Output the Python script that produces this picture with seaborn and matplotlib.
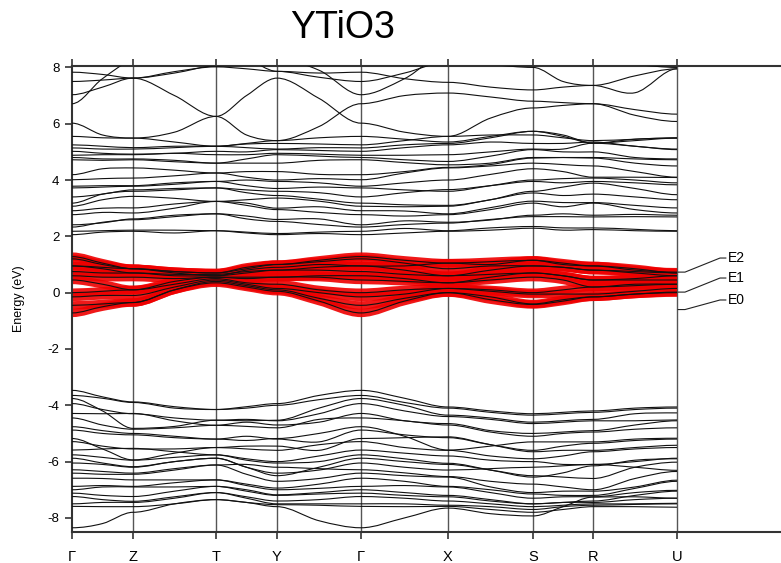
import numpy as np
import matplotlib
matplotlib.use("Agg")
import matplotlib.pyplot as plt
from matplotlib.path import Path
from matplotlib.patches import PathPatch
import seaborn as sns

# High-symmetry path through the orthorhombic Brillouin zone
KPOINT_LABELS = ["Γ", "Z", "T", "Y", "Γ", "X", "S", "R", "U"]
KPOINT_DIST = [0, 61, 144, 205, 289, 376, 461, 521, 605]

# Band energies (eV): value at each k-point and halfway along each segment
# order: Γ, ½, Z, ½, T, ½, Y, ½, Γ, ½, X, ½, S, ½, R, ½, U
CONDUCTION = [
    [2.06, 2.15, 2.18, 2.12, 2.20, 2.12, 2.06, 2.10, 2.06, 2.12, 2.18, 2.22, 2.29, 2.22, 2.24, 2.20, 2.18],
    [2.18, 2.20, 2.22, 2.22, 2.20, 2.15, 2.10, 2.15, 2.18, 2.28, 2.20, 2.30, 2.35, 2.30, 2.30, 2.25, 2.20],
    [2.33, 2.50, 2.59, 2.70, 2.80, 2.62, 2.53, 2.42, 2.33, 2.42, 2.47, 2.60, 2.70, 2.70, 2.69, 2.70, 2.69],
    [2.41, 2.48, 2.62, 2.75, 2.80, 2.72, 2.60, 2.62, 2.41, 2.55, 2.50, 2.58, 2.75, 2.80, 2.75, 2.78, 2.75],
    [2.77, 2.85, 2.83, 3.00, 3.24, 3.10, 2.95, 2.85, 2.77, 2.72, 2.77, 2.95, 3.18, 3.05, 3.18, 2.95, 2.83],
    [2.91, 3.00, 3.01, 3.15, 3.24, 3.18, 3.00, 3.05, 2.91, 2.90, 2.80, 3.02, 3.25, 3.20, 3.20, 3.10, 3.01],
    [3.07, 3.30, 3.42, 3.35, 3.24, 3.30, 3.36, 3.25, 3.07, 3.05, 3.07, 3.30, 3.54, 3.45, 3.50, 3.40, 3.30],
    [3.18, 3.50, 3.60, 3.65, 3.72, 3.55, 3.45, 3.32, 3.18, 3.12, 3.10, 3.30, 3.60, 3.75, 3.89, 3.70, 3.48],
    [3.40, 3.50, 3.65, 3.70, 3.72, 3.65, 3.60, 3.55, 3.40, 3.55, 3.66, 3.80, 3.95, 3.90, 3.95, 3.90, 3.83],
    [3.72, 3.75, 3.78, 3.85, 3.95, 3.80, 3.70, 3.75, 3.72, 3.65, 3.60, 3.80, 4.00, 4.05, 4.07, 4.00, 3.90],
    [3.78, 3.80, 3.80, 3.90, 3.95, 4.00, 3.95, 3.90, 3.78, 3.90, 4.00, 4.20, 4.40, 4.30, 4.10, 4.10, 4.09],
    [4.01, 4.05, 4.07, 4.15, 4.25, 4.10, 4.00, 4.05, 4.01, 4.25, 4.43, 4.50, 4.60, 4.55, 4.50, 4.30, 4.10],
    [4.19, 4.40, 4.43, 4.35, 4.25, 4.30, 4.30, 4.20, 4.19, 4.30, 4.45, 4.55, 4.78, 4.80, 4.78, 4.60, 4.50],
    [4.72, 4.70, 4.72, 4.65, 4.60, 4.60, 4.60, 4.70, 4.72, 4.62, 4.54, 4.60, 4.80, 4.80, 4.80, 4.75, 4.72],
    [4.80, 4.75, 4.75, 4.70, 4.60, 4.75, 4.90, 4.85, 4.80, 4.72, 4.66, 4.85, 5.08, 5.00, 5.00, 4.80, 4.75],
    [4.88, 4.90, 4.90, 4.95, 4.90, 4.90, 4.95, 4.92, 4.88, 4.88, 4.90, 5.00, 5.10, 5.10, 5.31, 5.20, 5.08],
    [5.02, 4.95, 4.92, 4.95, 5.02, 5.00, 5.08, 5.05, 5.02, 5.15, 5.25, 5.35, 5.30, 5.30, 5.35, 5.20, 5.10],
    [5.14, 5.10, 5.10, 5.15, 5.20, 5.15, 5.10, 5.15, 5.14, 5.25, 5.30, 5.50, 5.73, 5.60, 5.31, 5.45, 5.49],
    [5.25, 5.20, 5.15, 5.20, 5.20, 5.28, 5.30, 5.28, 5.25, 5.40, 5.55, 5.60, 5.60, 5.50, 5.40, 5.45, 5.50],
    [5.55, 5.50, 5.49, 5.35, 5.20, 5.30, 5.40, 5.50, 5.55, 5.45, 5.35, 5.55, 5.73, 5.55, 5.31, 5.40, 5.49],
    [6.02, 5.60, 5.49, 5.70, 6.26, 7.00, 7.62, 6.90, 6.02, 5.70, 5.55, 6.20, 6.56, 6.65, 6.71, 6.50, 6.34],
    [7.83, 7.75, 7.62, 7.00, 6.26, 5.60, 5.40, 5.90, 6.71, 7.00, 7.09, 6.95, 6.80, 6.75, 6.71, 6.30, 6.08],
    [6.71, 7.60, 8.20, 8.40, 8.40, 8.30, 7.86, 7.80, 7.83, 7.60, 7.47, 7.30, 7.20, 7.30, 7.36, 7.70, 7.95],
    [7.50, 7.55, 7.62, 7.85, 8.02, 7.95, 7.86, 7.65, 7.50, 7.80, 8.20, 8.10, 8.00, 7.50, 7.36, 7.10, 7.95],
    [7.03, 7.30, 7.62, 7.80, 8.05, 8.20, 8.30, 7.90, 7.03, 7.60, 8.50, 8.50, 8.50, 8.30, 8.20, 8.10, 8.00],
]

# Ti t2g manifold around the Fermi level
T2G = [
    [-0.72, -0.50, -0.35, 0.10, 0.35, 0.20, 0.05, -0.30, -0.72, -0.30, 0.00, -0.25, -0.42, -0.30, -0.15, -0.05, 0.00],
    [-0.45, -0.40, -0.35, 0.10, 0.40, 0.25, 0.10, -0.20, -0.45, -0.20, 0.00, -0.15, -0.40, -0.25, -0.15, -0.05, 0.02],
    [-0.15, -0.10, -0.10, 0.20, 0.45, 0.30, 0.15, 0.00, -0.15, -0.05, 0.15, 0.05, -0.05, -0.05, -0.05, 0.05, 0.15],
    [0.00, 0.05, 0.10, 0.30, 0.50, 0.35, 0.30, 0.10, 0.00, 0.10, 0.15, 0.10, 0.00, 0.10, 0.20, 0.25, 0.30],
    [0.45, 0.30, 0.10, 0.40, 0.55, 0.50, 0.55, 0.55, 0.45, 0.40, 0.35, 0.45, 0.55, 0.45, 0.20, 0.30, 0.30],
    [0.60, 0.55, 0.55, 0.50, 0.55, 0.55, 0.55, 0.60, 0.60, 0.50, 0.35, 0.55, 0.70, 0.60, 0.45, 0.45, 0.45],
    [0.75, 0.70, 0.70, 0.60, 0.60, 0.70, 0.80, 0.80, 0.75, 0.65, 0.60, 0.65, 0.70, 0.60, 0.45, 0.50, 0.60],
    [0.95, 0.85, 0.70, 0.65, 0.65, 0.75, 0.80, 0.90, 0.95, 0.80, 0.60, 0.80, 0.95, 0.90, 0.80, 0.70, 0.60],
    [0.95, 0.90, 0.85, 0.70, 0.60, 0.80, 0.90, 1.00, 0.95, 0.95, 1.05, 1.00, 1.15, 1.00, 0.95, 0.85, 0.70],
    [1.20, 1.00, 0.85, 0.75, 0.70, 0.85, 1.00, 1.10, 1.20, 1.05, 0.85, 0.95, 0.95, 0.90, 0.80, 0.75, 0.70],
    [1.28, 1.05, 0.85, 0.75, 0.70, 0.90, 1.00, 1.15, 1.28, 1.15, 1.05, 1.10, 1.15, 1.05, 0.95, 0.80, 0.73],
]

VALENCE = [
    [-3.47, -3.70, -3.88, -4.05, -4.15, -4.05, -3.94, -3.65, -3.47, -3.75, -4.06, -4.20, -4.30, -4.25, -4.20, -4.10, -4.06],
    [-3.65, -3.75, -3.90, -4.10, -4.15, -4.10, -4.00, -3.80, -3.65, -3.90, -4.10, -4.25, -4.35, -4.30, -4.25, -4.15, -4.10],
    [-3.76, -4.20, -4.82, -4.75, -4.53, -4.55, -4.53, -4.10, -3.76, -4.00, -4.35, -4.45, -4.60, -4.55, -4.50, -4.30, -4.27],
    [-3.94, -4.15, -4.30, -4.45, -4.53, -4.50, -4.55, -4.30, -3.94, -4.20, -4.40, -4.50, -4.65, -4.60, -4.55, -4.55, -4.52],
    [-4.29, -4.30, -4.29, -4.55, -4.71, -4.60, -4.70, -4.60, -4.29, -4.55, -4.65, -4.90, -5.00, -4.95, -4.90, -4.70, -4.55],
    [-4.45, -4.70, -4.85, -4.80, -4.71, -4.75, -4.80, -4.50, -4.45, -4.55, -4.70, -4.95, -5.10, -5.00, -4.95, -4.85, -4.80],
    [-4.76, -4.90, -5.00, -5.10, -5.20, -5.25, -5.18, -5.00, -4.76, -5.10, -5.59, -5.45, -5.30, -5.30, -5.30, -5.20, -5.17],
    [-4.88, -5.00, -5.05, -5.15, -5.20, -5.10, -5.20, -5.30, -4.88, -5.05, -5.15, -5.40, -5.60, -5.45, -5.35, -5.25, -5.20],
    [-5.18, -5.55, -5.94, -5.70, -5.50, -5.45, -5.45, -5.60, -5.18, -5.15, -5.12, -5.40, -5.65, -5.60, -5.60, -5.50, -5.42],
    [-5.29, -5.45, -5.55, -5.55, -5.50, -5.55, -5.60, -5.40, -5.29, -5.50, -5.60, -5.80, -5.90, -5.80, -5.65, -5.55, -5.50],
    [-5.59, -5.55, -5.53, -5.65, -5.76, -5.90, -6.00, -5.80, -5.59, -5.70, -5.80, -5.95, -6.00, -6.10, -6.10, -6.00, -5.88],
    [-5.76, -5.85, -5.95, -5.85, -5.76, -5.95, -6.05, -6.00, -5.76, -5.90, -6.06, -6.30, -6.55, -6.40, -6.15, -5.95, -5.90],
    [-5.88, -6.05, -6.18, -6.00, -5.88, -6.20, -6.50, -6.20, -5.88, -6.00, -6.10, -6.30, -6.50, -6.55, -6.60, -6.20, -6.02],
    [-6.05, -6.10, -6.20, -6.00, -5.88, -6.20, -6.41, -6.30, -6.05, -6.20, -6.30, -6.25, -6.20, -6.15, -6.10, -6.20, -6.31],
    [-6.29, -6.35, -6.41, -6.25, -6.12, -6.10, -6.20, -6.25, -6.29, -6.40, -6.53, -6.70, -6.80, -6.90, -7.00, -6.60, -6.35],
    [-6.41, -6.45, -6.45, -6.30, -6.12, -6.45, -6.70, -6.60, -6.41, -6.50, -6.55, -6.90, -7.10, -7.05, -7.05, -6.90, -6.66],
    [-6.59, -6.60, -6.65, -6.65, -6.65, -6.80, -6.94, -6.80, -6.59, -6.70, -6.88, -7.00, -7.15, -7.20, -7.20, -6.95, -6.70],
    [-6.88, -6.85, -6.88, -6.75, -6.65, -6.85, -7.00, -6.95, -6.88, -6.85, -6.90, -7.10, -7.30, -7.25, -7.25, -7.10, -7.02],
    [-7.00, -6.90, -6.90, -6.90, -6.88, -7.00, -7.18, -7.10, -7.00, -7.10, -7.20, -7.35, -7.50, -7.45, -7.40, -7.20, -7.05],
    [-7.12, -7.20, -7.24, -7.05, -6.88, -7.05, -7.20, -7.15, -7.12, -7.20, -7.25, -7.40, -7.50, -7.45, -7.45, -7.35, -7.30],
    [-7.24, -7.35, -7.41, -7.25, -7.10, -7.25, -7.40, -7.35, -7.24, -7.30, -7.40, -7.50, -7.60, -7.55, -7.50, -7.50, -7.48],
    [-7.50, -7.45, -7.45, -7.30, -7.10, -7.30, -7.50, -7.50, -7.50, -7.50, -7.55, -7.60, -7.70, -7.60, -7.55, -7.52, -7.50],
    [-7.59, -7.60, -7.60, -7.50, -7.35, -7.45, -7.53, -7.55, -7.59, -7.60, -7.59, -7.70, -7.80, -7.70, -7.60, -7.60, -7.62],
    [-8.35, -8.20, -7.80, -7.50, -7.35, -7.45, -7.60, -8.10, -8.35, -8.00, -7.65, -7.85, -7.93, -7.60, -7.26, -7.25, -7.30],
]

# Marked levels at U
LEVEL_NAMES = ["E2", "E1", "E0"]
LEVEL_ENERGIES = [0.73, 0.02, -0.60]
LEVEL_LABEL_Y = [1.23, 0.52, -0.26]


def sample_k(nodes):
    ks = []
    for a, b in zip(nodes[:-1], nodes[1:]):
        ks += [a, 0.5 * (a + b)]
    ks.append(nodes[-1])
    return np.array(ks, dtype=float)


def band_path(ks, es):
    """Smooth cubic Bezier path through the sampled energies (flat at k-points)."""
    es = np.asarray(es, dtype=float)
    n = len(ks)
    slope = np.zeros(n)
    for i in range(1, n - 1, 2):
        slope[i] = (es[i + 1] - es[i - 1]) / (ks[i + 1] - ks[i - 1])
    verts = [(ks[0], es[0])]
    codes = [Path.MOVETO]
    for i in range(n - 1):
        h = ks[i + 1] - ks[i]
        verts += [(ks[i] + h / 3, es[i] + slope[i] * h / 3),
                  (ks[i + 1] - h / 3, es[i + 1] - slope[i + 1] * h / 3),
                  (ks[i + 1], es[i + 1])]
        codes += [Path.CURVE4] * 3
    return Path(verts, codes)


sns.set_style("ticks")
plt.rcParams["font.family"] = ["Liberation Sans", "DejaVu Sans"]
plt.rcParams["axes.unicode_minus"] = False
for key in ["text.color", "axes.labelcolor", "xtick.labelcolor", "ytick.labelcolor"]:
    plt.rcParams[key] = "black"

W, H = 781, 563
fig = plt.figure(figsize=(W / 100, H / 100), dpi=100)
ax = fig.add_axes([72 / W, 1 - 532 / H, 1 - 72 / W, (532 - 66) / H])

ks = sample_k(KPOINT_DIST)

for band in T2G:
    ax.add_patch(PathPatch(band_path(ks, band), fill=False, edgecolor="#ee0000",
                           lw=6.0, alpha=0.9, capstyle="butt", zorder=2))
for band in CONDUCTION + VALENCE + T2G:
    ax.add_patch(PathPatch(band_path(ks, band), fill=False, edgecolor="#111111",
                           lw=0.8, zorder=3))

for k in KPOINT_DIST[1:]:
    ax.axvline(k, color="#555555", lw=1.0, zorder=1)

ax.set_xlim(0, W - 72)
ax.set_ylim(-8.5, 8.05)
ax.set_yticks(np.arange(-8, 9, 2))
ax.set_yticklabels([str(v) for v in range(-8, 9, 2)], fontsize=9.5)
ax.set_xticks(KPOINT_DIST)
ax.set_xticklabels(KPOINT_LABELS, fontsize=10.5)
ax.tick_params(axis="x", which="both", direction="out", top=True, bottom=True,
               length=5, width=1.2, color="#333333", pad=8)
ax.tick_params(axis="y", direction="out", left=True, right=False,
               length=5, width=1.2, color="#333333", pad=4)
ax.set_ylabel("Energy (eV)", fontsize=9)
ax.yaxis.set_label_coords(-0.066, 0.5)

for side in ["top", "bottom", "left"]:
    ax.spines[side].set_linewidth(1.5)
    ax.spines[side].set_color("#333333")
ax.spines["right"].set_visible(False)

# Leader lines for the marked levels
u = KPOINT_DIST[-1]
for name, e, ly in zip(LEVEL_NAMES, LEVEL_ENERGIES, LEVEL_LABEL_Y):
    ax.plot([u + 1, u + 8, u + 43, u + 49], [e, e, ly, ly], color="#222222",
            lw=0.8, clip_on=False, zorder=4)
    ax.text(u + 51, ly, name, fontsize=10, va="center", ha="left")

fig.text(343 / W, 1 - 28 / H, "YTiO3", ha="center", va="center", fontsize=27)

fig.savefig("out.png", dpi=100)
